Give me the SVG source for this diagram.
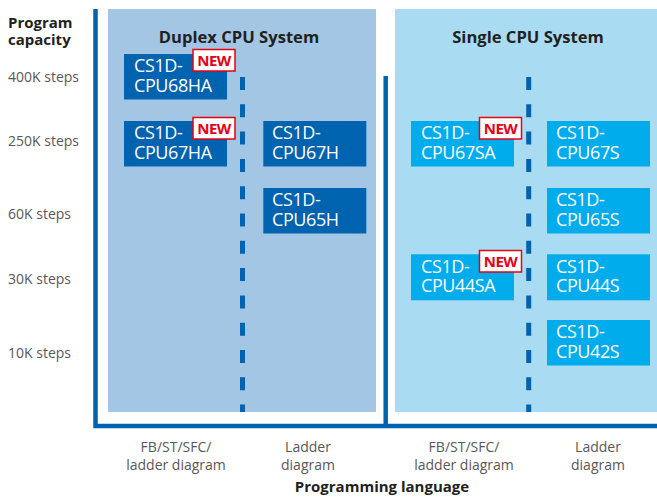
<svg xmlns="http://www.w3.org/2000/svg" width="657" height="498" viewBox="0 0 657 498">
<style>
.lbl{font-family:"Open Sans","Noto Sans","DejaVu Sans",sans-serif;font-size:14px;fill:#595757}
.hdr{font-family:"Open Sans","Noto Sans","DejaVu Sans",sans-serif;font-size:15px;font-weight:bold;fill:#231f20}
.ttl{font-family:"Open Sans","Noto Sans","DejaVu Sans",sans-serif;font-size:16.6px;font-weight:bold;fill:#231f20;text-anchor:middle}
.bt{font-family:"Open Sans","Noto Sans","DejaVu Sans",sans-serif;font-size:18px;fill:#ffffff;letter-spacing:-0.4px}
.dk{fill:#0063af}
.lt{fill:#00acec}
.nb{fill:#ffffff;stroke:#e60012;stroke-width:1.5}
.nt{font-family:"Open Sans","Noto Sans","DejaVu Sans",sans-serif;font-size:15px;font-weight:bold;fill:#e60012;text-anchor:middle;letter-spacing:-0.6px}
.ax{stroke:#0063af;stroke-width:4.5;fill:none}
.dash{stroke:#0063af;stroke-width:5;stroke-dasharray:13 14.3;fill:none}
.mid{text-anchor:middle}
</style>
<!-- panels -->
<rect id="duplex-panel" x="108" y="9" width="268" height="403" fill="#a2c6e3"/>
<rect id="single-panel" x="395" y="9" width="262" height="403" fill="#a9dcf2"/>
<text class="ttl" x="239" y="43">Duplex CPU System</text>
<text class="ttl" x="528" y="43">Single CPU System</text>
<!-- axes and dividers -->
<g id="connectors">
<path class="ax" d="M95.5,9 V426 H657"/>
<path class="ax" d="M385.7,76 V426"/>
<path class="dash" d="M242.5,77 V412"/>
<path class="dash" d="M528.7,77 V412"/>
</g>
<!-- y axis labels -->
<text class="hdr" x="8" y="27.5">Program<tspan x="8" y="44.5">capacity</tspan></text>
<text class="lbl" x="8" y="82">400K steps</text>
<text class="lbl" x="8" y="145.5">250K steps</text>
<text class="lbl" x="8" y="218.5">60K steps</text>
<text class="lbl" x="8" y="284">30K steps</text>
<text class="lbl" x="8" y="357.5">10K steps</text>
<!-- x axis labels -->
<text class="lbl mid" x="176" y="452">FB/ST/SFC/<tspan x="176" y="470">ladder diagram</tspan></text>
<text class="lbl mid" x="308" y="452">Ladder<tspan x="308" y="470">diagram</tspan></text>
<text class="lbl mid" x="464" y="452">FB/ST/SFC/<tspan x="464" y="470">ladder diagram</tspan></text>
<text class="lbl mid" x="598" y="452">Ladder<tspan x="598" y="470">diagram</tspan></text>
<text class="hdr mid" x="382" y="491.5">Programming language</text>
<!-- duplex nodes -->
<g id="cpu68ha">
<rect class="dk" x="124" y="54" width="103" height="45.5"/>
<text class="bt" x="134" y="72.3">CS1D-<tspan x="134" y="91.7">CPU68HA</tspan></text>
<rect class="nb" x="193" y="49.5" width="42" height="21.5"/>
<text class="nt" x="214" y="66">NEW</text>
</g>
<g id="cpu67ha">
<rect class="dk" x="124" y="121" width="103" height="45.5"/>
<text class="bt" x="134" y="139.3">CS1D-<tspan x="134" y="158.7">CPU67HA</tspan></text>
<rect class="nb" x="193" y="117.5" width="42" height="21.5"/>
<text class="nt" x="214" y="134">NEW</text>
</g>
<g id="cpu67h">
<rect class="dk" x="263.3" y="121" width="103" height="45.5"/>
<text class="bt" x="272" y="139.3">CS1D-<tspan x="272" y="158.7">CPU67H</tspan></text>
</g>
<g id="cpu65h">
<rect class="dk" x="263.3" y="188" width="103" height="45.5"/>
<text class="bt" x="272" y="206.3">CS1D-<tspan x="272" y="225.7">CPU65H</tspan></text>
</g>
<!-- single nodes -->
<g id="cpu67sa">
<rect class="lt" x="411" y="121" width="103" height="45.5"/>
<text class="bt" x="421" y="139.3">CS1D-<tspan x="421" y="158.7">CPU67SA</tspan></text>
<rect class="nb" x="479.5" y="117.5" width="42" height="21.5"/>
<text class="nt" x="500.5" y="134">NEW</text>
</g>
<g id="cpu67s">
<rect class="lt" x="547" y="121" width="103" height="45.5"/>
<text class="bt" x="556" y="139.3">CS1D-<tspan x="556" y="158.7">CPU67S</tspan></text>
</g>
<g id="cpu65s">
<rect class="lt" x="547" y="188" width="103" height="45.5"/>
<text class="bt" x="556" y="206.3">CS1D-<tspan x="556" y="225.7">CPU65S</tspan></text>
</g>
<g id="cpu44sa">
<rect class="lt" x="411" y="254.3" width="103" height="46"/>
<text class="bt" x="421" y="272.6">CS1D-<tspan x="421" y="292">CPU44SA</tspan></text>
<rect class="nb" x="479.5" y="250.5" width="42" height="21.5"/>
<text class="nt" x="500.5" y="267">NEW</text>
</g>
<g id="cpu44s">
<rect class="lt" x="547" y="254.3" width="103" height="46"/>
<text class="bt" x="556" y="272.6">CS1D-<tspan x="556" y="292">CPU44S</tspan></text>
</g>
<g id="cpu42s">
<rect class="lt" x="547" y="320" width="103" height="45.5"/>
<text class="bt" x="556" y="338.3">CS1D-<tspan x="556" y="357.7">CPU42S</tspan></text>
</g>
</svg>
